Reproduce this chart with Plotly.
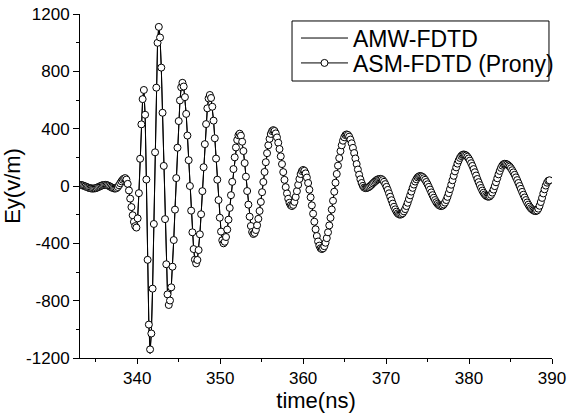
import plotly.graph_objects as go

# Sampling grid of the recorded waveform (ns)
T_START = 333.0
T_STEP = 0.15

# Ey (V/m), ASM-FDTD (Prony) samples
asm_values = [
    8, 7, 6, 4, 0, -3, -7, -10, -14, -16, -17, -18,
    -17, -16, -13, -9, -5, -1, 3, 6, 7, 8,
    7, 4, 0, -5, -10, -14, -17, -18,
    -15, -7, 5, 19, 33, 44, 52, 55,
    45, 15, -31, -88, -147, -204, -250, -280, -290,
    -226, -50, 190, 430, 606, 670,
    497, 45, -515, -967, -1140,
    -1029, -716, -265, 235, 686, 999, 1110,
    1036, 826, 511, 140, -231, -546, -756, -830,
    -799, -707, -563, -377, -165, 55, 267, 453, 597, 689, 720,
    694, 620, 503, 352, 180, 0, -172, -323, -440, -514, -540,
    -516, -447, -337, -197, -36, 131, 292, 432, 542, 611, 635,
    614, 553, 456, 333, 191, 44, -98, -221, -318, -379, -400,
    -389, -356, -304, -235, -153, -64, 29, 118, 200, 269, 321, 354, 365,
    351, 309, 244, 160, 65, -35, -130, -214, -279, -321, -335,
    -328, -307, -274, -229, -174, -111, -43, 28, 98, 166, 229, 284, 329, 363, 383, 390,
    384, 367, 339, 302, 258, 207, 153, 97, 43, -8, -52, -89, -117, -134, -140,
    -132, -111, -77, -36, 8, 49, 83, 104, 112,
    106, 88, 59, 21, -26, -79, -135, -193, -249, -302, -349, -387, -416, -434, -440,
    -435, -420, -396, -364, -323, -275, -222, -164, -103, -40, 23, 84, 142, 195, 243, 284, 316, 340, 355, 360,
    356, 344, 324, 298, 266, 230, 192, 153, 115, 79, 47, 21, 1, -11, -15,
    -14, -11, -6, 1, 9, 18, 26, 34, 41, 46, 49, 50,
    48, 41, 29, 13, -6, -27, -51, -75, -99, -123, -145, -163, -179, -191, -198, -200,
    -197, -190, -177, -161, -140, -117, -91, -65, -39, -13, 10, 31, 47, 60, 67, 70,
    68, 63, 54, 43, 28, 12, -6, -25, -45, -64, -82, -98, -113, -124, -133, -138, -140,
    -137, -129, -116, -98, -76, -50, -22, 9, 40, 71, 102, 130, 156, 178, 196, 209, 217, 220,
    218, 213, 204, 192, 177, 159, 140, 118, 96, 73, 49, 27, 6, -14, -32, -47, -59, -68, -73, -75,
    -72, -62, -46, -25, -1, 26, 54, 81, 105, 126, 142, 152, 155,
    154, 150, 143, 135, 124, 110, 95, 78, 60, 41, 21, 0, -20, -41, -61, -80, -98, -115, -130, -144, -155, -163, -170, -174, -175,
    -171, -158, -138, -112, -83, -52, -23, 3, 23, 36, 40,
]

# AMW-FDTD differs visibly only at a few extreme peaks (line tips)
amw_peak_times = [341.55, 342.6, 345.45, 347.1, 356.4]
amw_peak_values = [-1170, 1125, 745, -565, 410]

# Tick labels (plain hyphen minus, as in the reference)
y_tick_values = [-1200, -800, -400, 0, 400, 800, 1200]
y_tick_labels = ["-1200", "-800", "-400", "0", "400", "800", "1200"]
x_tick_values = [340, 350, 360, 370, 380, 390]
x_tick_labels = ["340", "350", "360", "370", "380", "390"]

time_ns = [round(T_START + T_STEP * i, 3) for i in range(len(asm_values))]
amw_values = list(asm_values)
for t, v in zip(amw_peak_times, amw_peak_values):
    amw_values[int(round((t - T_START) / T_STEP))] = v

FONT = "Liberation Sans, Arial, Helvetica, sans-serif"
LEG_FONT = dict(size=23, family=FONT, color="black")

fig = go.Figure()
fig.add_trace(go.Scatter(
    x=time_ns, y=amw_values, mode="lines", name="AMW-FDTD",
    line=dict(color="black", width=1), legend="legend",
))
fig.add_trace(go.Scatter(
    x=time_ns, y=asm_values, mode="lines+markers", name="ASM-FDTD (Prony)",
    line=dict(color="black", width=1),
    marker=dict(symbol="circle", size=7, color="white",
                line=dict(color="black", width=1)),
    legend="legend2",
))

# legend frame enclosing both legend entries
fig.add_shape(type="rect", xref="paper", yref="paper",
              x0=0.4492, x1=0.9936, y0=0.8052, y1=0.9797,
              line=dict(color="black", width=1), fillcolor="white", layer="above")

axis_common = dict(
    showline=True, linecolor="black", linewidth=1,
    showgrid=False, zeroline=False, automargin=False,
    ticks="outside", tickcolor="black", tickwidth=1,
    tickfont=dict(size=17, color="black", family=FONT),
    ticklabeloverflow="allow",
)

leg_common = dict(
    xanchor="left", yanchor="middle", borderwidth=0,
    bgcolor="rgba(0,0,0,0)", font=LEG_FONT, itemwidth=47,
)

fig.update_layout(
    width=568, height=416,
    margin=dict(l=80, r=16, t=14, b=58, autoexpand=False),
    paper_bgcolor="white", plot_bgcolor="white",
    font=dict(family=FONT, color="black", size=17),
    showlegend=True,
    legend=dict(x=0.4576, y=0.930, **leg_common),
    legend2=dict(x=0.4576, y=0.8576, **leg_common),
    xaxis=dict(
        range=[333.1, 390], tickmode="array",
        tickvals=x_tick_values, ticktext=x_tick_labels, ticklen=5,
        minor=dict(dtick=5, tick0=0, ticks="outside", ticklen=3, tickcolor="black"),
        title=dict(text="time(ns)", font=dict(size=22, family=FONT, color="black"), standoff=4),
        **axis_common,
    ),
    yaxis=dict(
        range=[-1200, 1200], tickmode="array",
        tickvals=y_tick_values, ticktext=y_tick_labels, ticklen=6,
        minor=dict(dtick=200, tick0=0, ticks="outside", ticklen=3, tickcolor="black"),
        title=dict(text="Ey(v/m)", font=dict(size=22, family=FONT, color="black"), standoff=1),
        **axis_common,
    ),
)

# remove the browser's default 8px page margin so the figure sits at the page origin
fig.write_html(
    "out.html",
    config={"displayModeBar": False},
    post_script="document.body.style.margin='0px';",
)
